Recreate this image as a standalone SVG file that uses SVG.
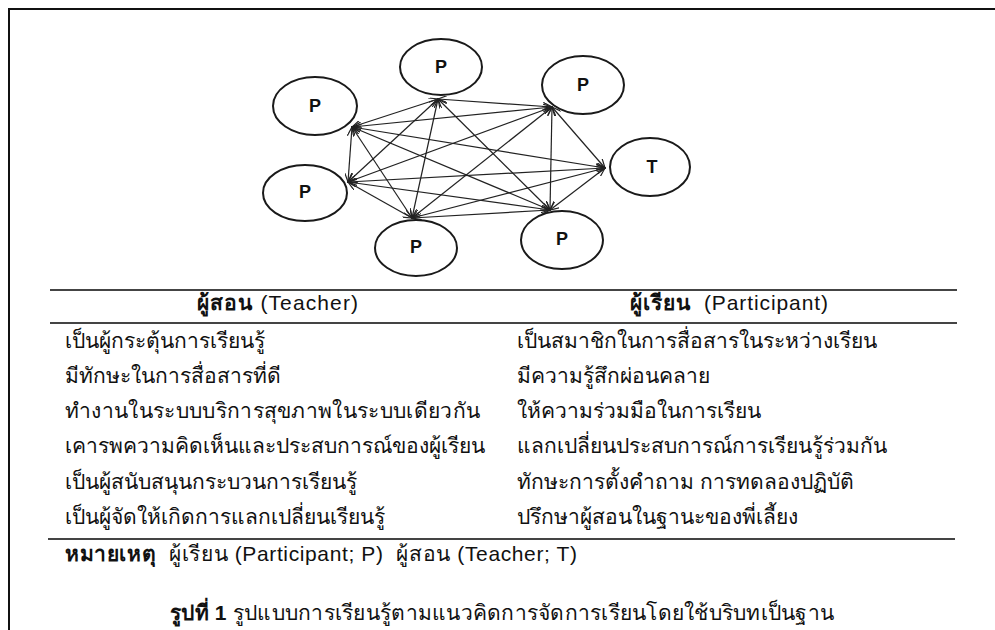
<svg xmlns="http://www.w3.org/2000/svg" width="995" height="630" viewBox="0 0 995 630">
<style>
.node ellipse{fill:#fff;stroke:#1a1a1a;stroke-width:2}
.node text{font-family:"Liberation Sans",Arial,sans-serif;font-weight:bold;font-size:18px;fill:#111;text-anchor:middle}
.edges line{stroke:#222;stroke-width:1.2;marker-start:url(#ah);marker-end:url(#ah)}
.rule{stroke:#444;stroke-width:2}
.t{font-family:"Liberation Sans","Noto Sans","DejaVu Sans",sans-serif;font-size:21px;fill:#111;white-space:pre}
.b{font-weight:bold}
</style>
<defs>
<marker id="ah" viewBox="0 0 10 8" refX="9" refY="4" markerWidth="10" markerHeight="8" markerUnits="userSpaceOnUse" orient="auto-start-reverse">
<path d="M0,0 L9,4 L0,8" fill="none" stroke="#222" stroke-width="1.2"/>
</marker>
</defs>
<rect width="995" height="630" fill="#fff"/>
<g id="frame">
<line x1="8" y1="9" x2="995" y2="9" stroke="#111" stroke-width="2"/>
<line x1="9" y1="8" x2="9" y2="630" stroke="#111" stroke-width="2"/>
</g>
<g class="edges" id="connectors">
<line x1="352" y1="127" x2="438" y2="99"/>
<line x1="352" y1="127" x2="552" y2="107"/>
<line x1="352" y1="127" x2="605" y2="168"/>
<line x1="352" y1="127" x2="348" y2="182"/>
<line x1="352" y1="127" x2="412" y2="218"/>
<line x1="352" y1="127" x2="550" y2="210"/>
<line x1="438" y1="99" x2="552" y2="107"/>
<line x1="438" y1="99" x2="348" y2="182"/>
<line x1="438" y1="99" x2="412" y2="218"/>
<line x1="438" y1="99" x2="550" y2="210"/>
<line x1="552" y1="107" x2="605" y2="168"/>
<line x1="552" y1="107" x2="348" y2="182"/>
<line x1="552" y1="107" x2="412" y2="218"/>
<line x1="552" y1="107" x2="550" y2="210"/>
<line x1="605" y1="168" x2="348" y2="182"/>
<line x1="605" y1="168" x2="412" y2="218"/>
<line x1="605" y1="168" x2="550" y2="210"/>
<line x1="348" y1="182" x2="412" y2="218"/>
<line x1="348" y1="182" x2="550" y2="210"/>
<line x1="412" y1="218" x2="550" y2="210"/>
</g>
<g class="node" id="node-p-top"><ellipse cx="441" cy="67" rx="41" ry="28"/><text x="441" y="73">P</text></g>
<g class="node" id="node-p-upleft"><ellipse cx="315" cy="106" rx="42" ry="29"/><text x="315" y="112">P</text></g>
<g class="node" id="node-p-upright"><ellipse cx="583" cy="85" rx="41" ry="29"/><text x="583" y="91">P</text></g>
<g class="node" id="node-t"><ellipse cx="650" cy="167" rx="40" ry="29"/><text x="652" y="173">T</text></g>
<g class="node" id="node-p-lowleft"><ellipse cx="305" cy="193" rx="42" ry="28"/><text x="305" y="198">P</text></g>
<g class="node" id="node-p-bottom"><ellipse cx="416" cy="248" rx="41" ry="28"/><text x="416" y="253">P</text></g>
<g class="node" id="node-p-lowright"><ellipse cx="562" cy="240" rx="41" ry="29"/><text x="562" y="245">P</text></g>
<g id="table">
<line class="rule" x1="50" y1="290" x2="957" y2="290"/>
<line class="rule" x1="50" y1="323" x2="957" y2="323"/>
<line class="rule" x1="48" y1="539" x2="955" y2="539"/>
<text class="t" x="197" y="310" textLength="161" lengthAdjust="spacing" xml:space="preserve"><tspan class="b">ผู้สอน</tspan> (Teacher)</text>
<text class="t" x="630" y="310" textLength="198" lengthAdjust="spacing" xml:space="preserve"><tspan class="b">ผู้เรียน</tspan>  (Participant)</text>
<text class="t" x="65" y="348">เป็นผู้กระตุ้นการเรียนรู้</text>
<text class="t" x="65" y="383">มีทักษะในการสื่อสารที่ดี</text>
<text class="t" x="65" y="418" textLength="415" lengthAdjust="spacing">ทำงานในระบบบริการสุขภาพในระบบเดียวกัน</text>
<text class="t" x="65" y="453">เคารพความคิดเห็นและประสบการณ์ของผู้เรียน</text>
<text class="t" x="65" y="489">เป็นผู้สนับสนุนกระบวนการเรียนรู้</text>
<text class="t" x="65" y="524">เป็นผู้จัดให้เกิดการแลกเปลี่ยนเรียนรู้</text>
<text class="t" x="517" y="348">เป็นสมาชิกในการสื่อสารในระหว่างเรียน</text>
<text class="t" x="517" y="383">มีความรู้สึกผ่อนคลาย</text>
<text class="t" x="517" y="418">ให้ความร่วมมือในการเรียน</text>
<text class="t" x="517" y="453">แลกเปลี่ยนประสบการณ์การเรียนรู้ร่วมกัน</text>
<text class="t" x="517" y="489">ทักษะการตั้งคำถาม การทดลองปฏิบัติ</text>
<text class="t" x="517" y="524">ปรึกษาผู้สอนในฐานะของพี่เลี้ยง</text>
<text class="t" x="65" y="561" textLength="512" lengthAdjust="spacing" xml:space="preserve"><tspan class="b">หมายเหตุ</tspan>  ผู้เรียน (Participant; P)  ผู้สอน (Teacher; T)</text>
<text class="t" x="170" y="620" textLength="664" lengthAdjust="spacing" xml:space="preserve"><tspan class="b">รูปที่ 1</tspan> รูปแบบการเรียนรู้ตามแนวคิดการจัดการเรียนโดยใช้บริบทเป็นฐาน</text>
</g>
</svg>
